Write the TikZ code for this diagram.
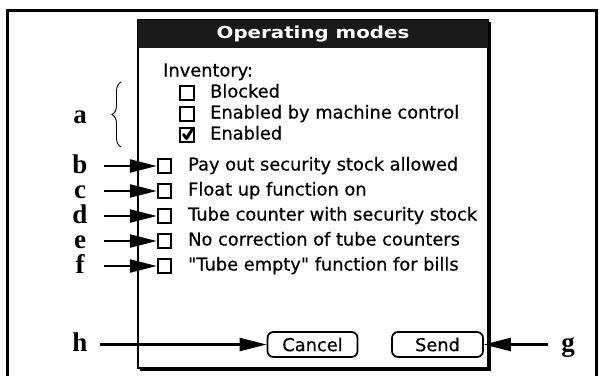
\documentclass[tikz,border=0pt]{standalone}
\usepackage{fontspec}
\setmainfont{Liberation Serif}
\newfontfamily\palm{DejaVu Sans}[FakeBold=0.6]
\newfontfamily\palmwide{DejaVu Sans}[FakeStretch=1.2]
\usetikzlibrary{arrows.meta,decorations.pathreplacing}

\begin{document}
\begin{tikzpicture}[x=1pt,y=-1pt,
  tag/.style={font=\fontsize{27}{27}\selectfont\bfseries, inner sep=0pt,
    text height=14pt, text depth=0pt, minimum width=40pt},
  ui/.style={font=\palm\fontsize{17.8}{18}\selectfont, anchor=west, inner sep=0pt,
    text height=13pt, text depth=4pt},
  cbox/.style={draw, line width=1.9pt, minimum size=13.5pt, inner sep=0pt},
  pointer/.style={-{Triangle[length=27pt,width=13pt]}, line width=2.2pt},
  btn/.style={draw, line width=1.7pt, rounded corners=6pt, minimum height=25pt,
    inner sep=0pt, font=\palm\fontsize{17.8}{18}\selectfont}
]
\useasboundingbox (0,0) rectangle (599,375);

% page frame (open at the bottom)
\draw[line width=3pt] (7,376) -- (7,10) -- (596.5,10) -- (596.5,376);

% dialog window with drop shadow
\draw[line width=2pt] (490,22) -- (490,370) -- (140,370);
\draw[line width=1.7pt, fill=white] (138,20) rectangle (488,368);
\fill[black!90] (138,20) rectangle (488,48);
\node[font=\palmwide\bfseries\fontsize{16.5}{17}\selectfont, text=white] (title) at (313,34) {Operating modes};

% inventory group
\node[ui] (inv) at (163,72) {Inventory:};
\node[cbox] (bx1) at (187,93) {};
\node[ui] (t1) at (210,93) {Blocked};
\node[cbox] (bx2) at (187,114) {};
\node[ui] (t2) at (210,114) {Enabled by machine control};
\node[cbox] (bx3) at (187,135) {};
\node[ui] (t3) at (210,135) {Enabled};
\draw[line width=3pt, line cap=round, line join=round]
  ([shift={(-3.5,-0.5)}]bx3.center) -- ([shift={(-0.5,3.5)}]bx3.center) -- ([shift={(6,-7)}]bx3.center);

% option check boxes
\node[cbox] (bxb) at (164.5,166) {};
\node[ui] (tb) at (188,166) {Pay out security stock allowed};
\node[cbox] (bxc) at (164.5,191) {};
\node[ui] (tc) at (188,191) {Float up function on};
\node[cbox] (bxd) at (164.5,216) {};
\node[ui] (td) at (188,216) {Tube counter with security stock};
\node[cbox] (bxe) at (164.5,241) {};
\node[ui] (te) at (188,241) {No correction of tube counters};
\node[cbox] (bxf) at (164.5,266) {};
\node[ui] (tf) at (188,266) {"Tube empty" function for bills};

% buttons
\node[btn, minimum width=90pt] (cancel) at (312.5,344.5) {Cancel};
\node[btn, minimum width=91pt] (send) at (437.5,344.5) {Send};

% callout letters
\node[tag] (la) at (80,116) {a};
\draw[line width=0.9pt, decorate, decoration={brace, amplitude=9pt}] (121,147) -- (121,82);
\node[tag] (lb) at (80,166) {b};
\node[tag] (lc) at (80,191) {c};
\node[tag] (ld) at (80,216) {d};
\node[tag] (le) at (80,241) {e};
\node[tag] (lf) at (80,266) {f};
\node[tag] (lh) at (80,344.5) {h};
\node[tag] (lg) at (568,344.5) {g};

\foreach \l/\b in {lb/bxb, lc/bxc, ld/bxd, le/bxe, lf/bxf}
  \draw[pointer, shorten <=4pt] (\l.east) -- (\b.west);
\draw[pointer] (lh.east) -- (cancel.west);
\draw[pointer] (lg.west) -- (send.east);
\end{tikzpicture}
\end{document}
